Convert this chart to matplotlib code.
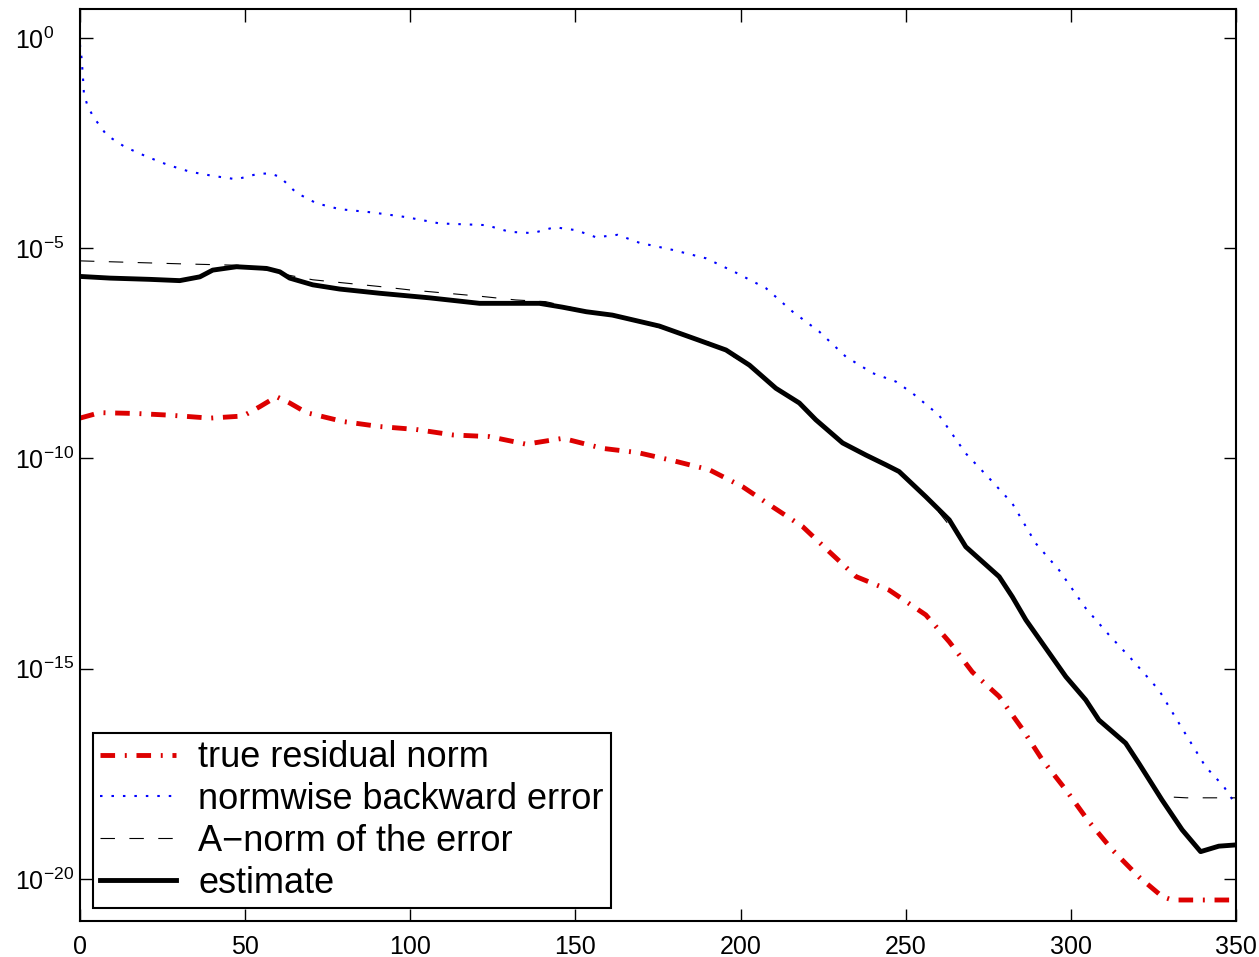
import matplotlib
matplotlib.use("Agg")
import matplotlib.pyplot as plt
import numpy as np

plt.rcParams['font.family'] = ['Liberation Sans', 'DejaVu Sans']
plt.rcParams['mathtext.fontset'] = 'custom'
plt.rcParams['mathtext.rm'] = 'Liberation Sans'
plt.rcParams['mathtext.default'] = 'regular'

# values, y stored as log10
est_x = [0, 9.1, 21.2, 30.2, 36.3, 40.2, 47.4, 56.5, 60.5, 63.5, 70.5, 78.6, 90.7,
         105.9, 121.0, 139.1, 146.0, 153.3, 161.2, 175.4, 187.5, 195.6, 202.7, 210.7,
         217.8, 222.8, 230.9, 238.0, 244.0, 248.0, 256.1, 263.2, 268.2, 278.3, 282.3,
         286.4, 298.5, 304.5, 308.5, 316.6, 320.6, 327.6, 333.7, 339.3, 344.8, 350]
est_e = [-5.67, -5.71, -5.74, -5.77, -5.68, -5.52, -5.44, -5.48, -5.56, -5.71, -5.87,
         -5.97, -6.07, -6.18, -6.31, -6.31, -6.40, -6.51, -6.59, -6.85, -7.19, -7.42,
         -7.78, -8.33, -8.68, -9.08, -9.63, -9.92, -10.15, -10.31, -10.91, -11.46,
         -12.10, -12.81, -13.29, -13.84, -15.19, -15.74, -16.22, -16.77, -17.25, -18.12,
         -18.83, -19.35, -19.22, -19.19]

anorm_x = [0, 30.2, 50.4, 60.5, 70.5, 90.7, 99.8, 121.0, 132.0, 141.0, 153.3, 161.2,
           180.5, 189.6, 202.7, 210.7, 217.8, 222.8, 230.9, 244.0, 248.0, 256.1, 268.2,
           278.3, 286.4, 298.5, 308.5, 316.6, 324.0, 327.0, 330.0, 335.0, 350]
anorm_e = [-5.30, -5.37, -5.41, -5.60, -5.75, -5.91, -5.99, -6.14, -6.23, -6.27, -6.49,
           -6.57, -7.00, -7.20, -7.80, -8.31, -8.66, -9.06, -9.61, -10.13, -10.29, -10.89,
           -12.08, -12.79, -13.82, -15.17, -16.20, -16.75, -17.68, -17.98, -18.05, -18.07,
           -18.07]

bwd_x = [0, 0.5, 1.0, 1.2, 2.2, 4.0, 8.1, 13.6, 20.2, 26.7, 33.3, 40.3, 47.4, 53.9,
         57.5, 60.5, 65.5, 71.6, 78.6, 88.7, 98.8, 108.9, 123.0, 130.1, 137.1, 143.7,
         150.2, 156.3, 162.8, 169.4, 179.5, 189.6, 198.6, 207.7, 215.8, 223.8, 231.9,
         240.0, 247.0, 252.1, 260.1, 268.2, 275.3, 282.3, 289.4, 296.4, 304.5, 311.6,
         318.6, 326.7, 333.7, 340.8, 346.3, 350]
bwd_e = [-0.15, -0.48, -1.04, -1.32, -1.59, -1.87, -2.31, -2.59, -2.82, -3.02, -3.18,
         -3.28, -3.36, -3.23, -3.22, -3.30, -3.68, -3.93, -4.07, -4.15, -4.26, -4.41,
         -4.45, -4.61, -4.64, -4.50, -4.57, -4.74, -4.68, -4.87, -5.04, -5.24, -5.58,
         -5.95, -6.51, -6.98, -7.58, -7.97, -8.17, -8.45, -8.97, -9.88, -10.47, -11.07,
         -12.02, -12.65, -13.56, -14.20, -14.79, -15.51, -16.42, -17.33, -17.80, -18.24]

res_x = [0, 6.0, 17.2, 27.2, 39.3, 49.4, 54.4, 59.5, 63.5, 68.6, 79.6, 90.7, 101.8,
         112.9, 124.0, 135.1, 146.2, 158.3, 168.9, 179.5, 190.6, 200.6, 209.7, 218.8,
         226.9, 235.0, 245.0, 256.1, 263.2, 270.2, 278.3, 285.3, 291.4, 298.5, 305.5,
         312.6, 320.6, 327.7, 330.7, 350]
res_e = [-9.04, -8.91, -8.93, -8.97, -9.04, -8.99, -8.77, -8.53, -8.68, -8.91, -9.12,
         -9.24, -9.31, -9.44, -9.48, -9.66, -9.52, -9.76, -9.86, -10.05, -10.27, -10.67,
         -11.15, -11.62, -12.22, -12.81, -13.13, -13.72, -14.36, -15.08, -15.66, -16.43,
         -17.17, -17.88, -18.64, -19.31, -19.95, -20.42, -20.50, -20.50]

fig = plt.figure(figsize=(12.59, 9.57), dpi=100)
ax = fig.add_axes([0.0635, 0.0376, 0.9182, 0.953])

ax.semilogy(res_x, 10.0 ** np.array(res_e), color='#dd0000', lw=3.5,
            dashes=(3, 2, 0.4, 2), label='true residual norm')
ax.semilogy(bwd_x, 10.0 ** np.array(bwd_e), color='#0000ff', lw=1.5,
            dashes=(1.2, 4.3), label='normwise backward error')
ax.semilogy(anorm_x, 10.0 ** np.array(anorm_e), color='black', lw=0.8,
            dashes=(13, 13), label='A\u2212norm of the error')
ax.semilogy(est_x, 10.0 ** np.array(est_e), color='black', lw=3.5, label='estimate')

ax.set_xlim(0, 350)
ax.set_ylim(1e-21, 10 ** 0.69)
ax.set_xticks(np.arange(0, 351, 50))
ax.set_yticks([1e-20, 1e-15, 1e-10, 1e-5, 1e0])
ax.minorticks_off()
ax.tick_params(direction='in', length=9, width=1, top=True, right=True, labelsize=18)
ax.tick_params(axis='x', pad=10)
ax.tick_params(axis='y', pad=47)
for lab in ax.get_yticklabels():
    lab.set_horizontalalignment('left')
for s in ax.spines.values():
    s.set_linewidth(1.5)

leg = ax.legend(loc='lower left', bbox_to_anchor=(0.0112, 0.0143), borderaxespad=0,
                fontsize=26, fancybox=False, framealpha=1, edgecolor='black',
                handlelength=2.1, labelspacing=0.19, borderpad=0.2, handletextpad=0.62)
leg.get_frame().set_linewidth(1.5)

fig.savefig('out.png', dpi=100)
